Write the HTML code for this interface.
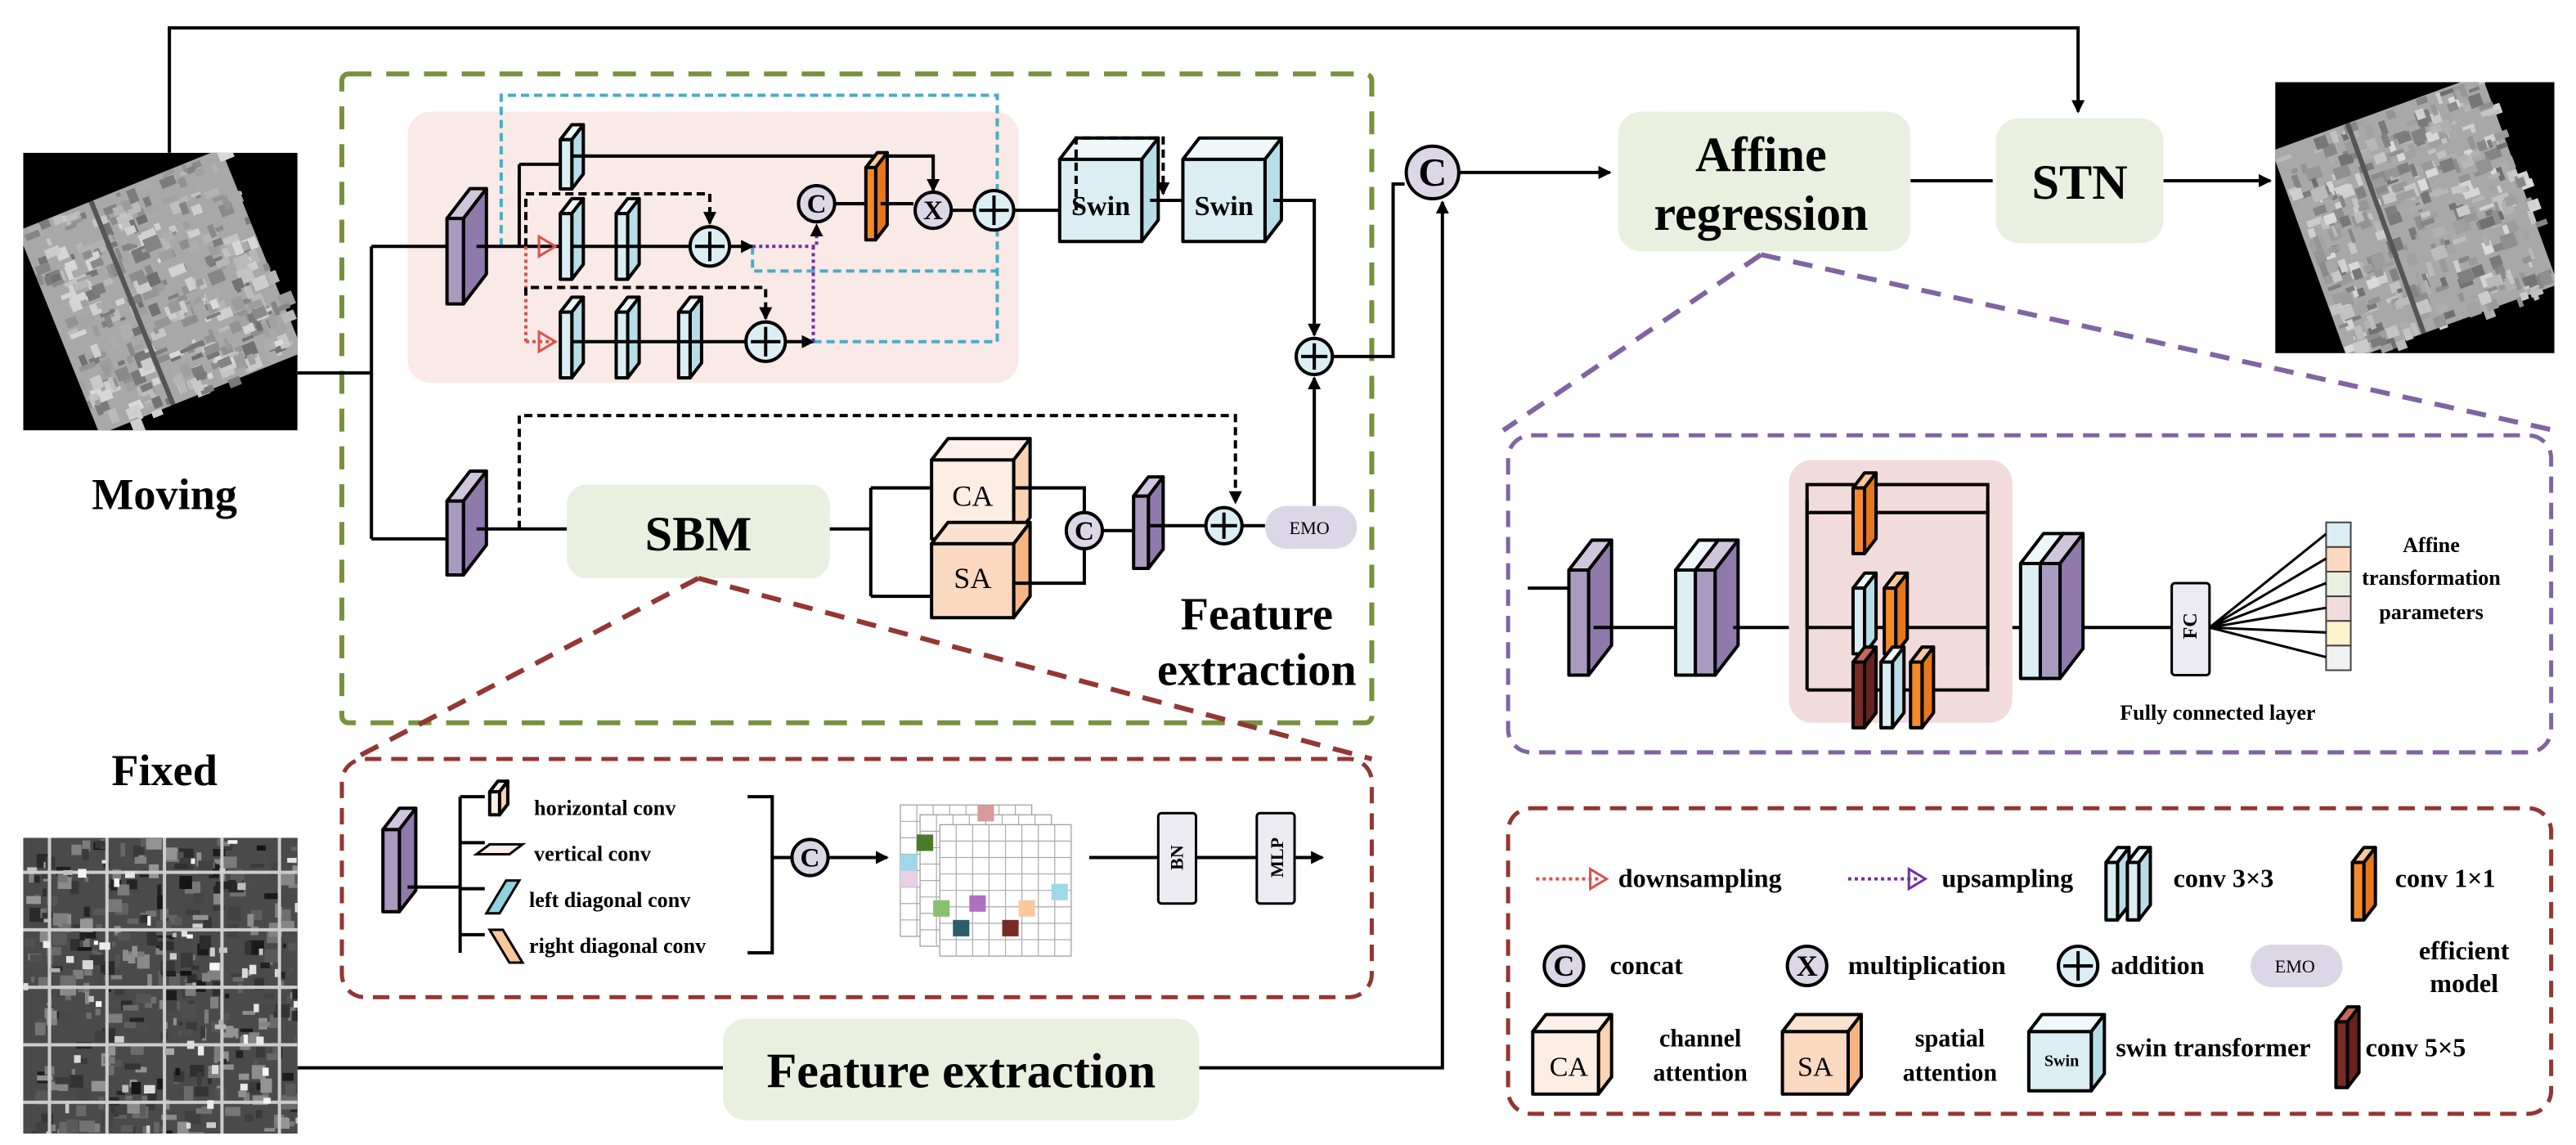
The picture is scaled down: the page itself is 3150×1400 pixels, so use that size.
<!DOCTYPE html>
<html><head><meta charset="utf-8"><style>
html,body{margin:0;padding:0;background:#fff}
svg{display:block}
text{font-family:"Liberation Serif","Times New Roman",Times,serif;font-weight:bold;fill:#000}
</style></head><body>
<svg id="s" width="3150" height="1400" viewBox="0 0 1568 697" xmlns="http://www.w3.org/2000/svg" font-family="Liberation Serif, Times New Roman, serif">
<defs>
<marker id="ar" markerWidth="8" markerHeight="8" refX="7" refY="4" orient="auto" markerUnits="userSpaceOnUse"><path d="M0,0 L8,4 L0,8 Z" fill="#000"/></marker>
<clipPath id="cm"><rect x="14" y="93" width="167" height="169"/></clipPath>
<clipPath id="cf"><rect x="14" y="510" width="167" height="180"/></clipPath>
<clipPath id="co"><rect x="1385" y="50" width="170" height="165"/></clipPath>
</defs>
<g id="g"></g>
<text x="100" y="310" font-size="27" text-anchor="middle">Moving</text>
<text x="100" y="478" font-size="27" text-anchor="middle">Fixed</text>
<text x="1072" y="104" font-size="30" text-anchor="middle">Affine</text>
<text x="1072" y="140" font-size="30" text-anchor="middle">regression</text>
<text x="1266" y="121" font-size="30" text-anchor="middle">STN</text>
<text x="425" y="335" font-size="30" text-anchor="middle">SBM</text>
<text x="585" y="662" font-size="30" text-anchor="middle">Feature extraction</text>
<text x="765" y="383" font-size="28" text-anchor="middle">Feature</text>
<text x="765" y="417" font-size="28" text-anchor="middle">extraction</text>
<text x="670" y="131" font-size="17" text-anchor="middle">Swin</text>
<text x="745" y="131" font-size="17" text-anchor="middle">Swin</text>
<text x="592" y="308" font-size="18" style="font-weight:normal" text-anchor="middle">CA</text>
<text x="592" y="358" font-size="18" style="font-weight:normal" text-anchor="middle">SA</text>
<text x="797" y="325" font-size="11" style="font-weight:normal" text-anchor="middle">EMO</text>
<text x="325" y="496" font-size="13">horizontal conv</text>
<text x="325" y="524" font-size="13">vertical conv</text>
<text x="322" y="552" font-size="13">left diagonal conv</text>
<text x="322" y="580" font-size="13">right diagonal conv</text>
<text x="0" y="0" font-size="11" transform="translate(720,522) rotate(-90)" text-anchor="middle">BN</text>
<text x="0" y="0" font-size="11" transform="translate(781,522) rotate(-90)" text-anchor="middle">MLP</text>
<text x="0" y="0" font-size="12" transform="translate(1337,381) rotate(-90)" text-anchor="middle">FC</text>
<text x="1480" y="336" font-size="13" text-anchor="middle">Affine</text>
<text x="1480" y="356" font-size="13" text-anchor="middle">transformation</text>
<text x="1480" y="377" font-size="13" text-anchor="middle">parameters</text>
<text x="1350" y="438" font-size="13" text-anchor="middle">Fully connected layer</text>
<text x="985" y="540" font-size="16">downsampling</text>
<text x="1182" y="540" font-size="16">upsampling</text>
<text x="1323" y="540" font-size="16">conv 3×3</text>
<text x="1458" y="540" font-size="16">conv 1×1</text>
<text x="980" y="593" font-size="16">concat</text>
<text x="1125" y="593" font-size="16">multiplication</text>
<text x="1285" y="593" font-size="16">addition</text>
<text x="1397" y="592" font-size="11" style="font-weight:normal" text-anchor="middle">EMO</text>
<text x="1500" y="584" font-size="16" text-anchor="middle">efficient</text>
<text x="1500" y="604" font-size="16" text-anchor="middle">model</text>
<text x="1035" y="637" font-size="15" text-anchor="middle">channel</text>
<text x="1035" y="658" font-size="15" text-anchor="middle">attention</text>
<text x="1187" y="637" font-size="15" text-anchor="middle">spatial</text>
<text x="1187" y="658" font-size="15" text-anchor="middle">attention</text>
<text x="1288" y="643" font-size="16">swin transformer</text>
<text x="1440" y="643" font-size="16">conv 5×5</text>
<text x="955" y="655" font-size="17" style="font-weight:normal" text-anchor="middle">CA</text>
<text x="1105" y="655" font-size="17" style="font-weight:normal" text-anchor="middle">SA</text>
<text x="1255" y="649" font-size="10" text-anchor="middle">Swin</text>
<g id="ct"></g>
</svg>
<script>
const NS="http://www.w3.org/2000/svg",G=document.getElementById('g'),CT=document.getElementById('ct');
function el(t,a,p){const e=document.createElementNS(NS,t);for(const k in a)e.setAttribute(k,a[k]);(p||G).appendChild(e);return e;}
function L(pts,o){o=o||{};return el('polyline',Object.assign({points:pts,fill:'none',stroke:'#000','stroke-width':2},o));}
function R(x,y,w,h,f,o){return el('rect',Object.assign({x,y,width:w,height:h,fill:f},o||{}));}
const C={pu:['#a99bc0','#8f7aab','#cfc6de'],bl:['#daeef3','#b7dde8','#eef8fb'],or:['#f58a2a','#e6771c','#fbc89a'],ca:['#fdeee4','#fad3b4','#fdf1ea'],sa:['#fbd9c0','#f6b584','#fbe2cf'],ma:['#7a2a24','#6a221c','#c66a5a']};
function slab(x,y,w,h,d,c){const s={stroke:'#000','stroke-width':2,'stroke-linejoin':'round'};
 el('polygon',Object.assign({points:`${x},${y} ${x+d},${y-d*1.3} ${x+w+d},${y-d*1.3} ${x+w},${y}`,fill:c[2]},s));
 el('polygon',Object.assign({points:`${x+w},${y} ${x+w+d},${y-d*1.3} ${x+w+d},${y+h-d*1.3} ${x+w},${y+h}`,fill:c[1]},s));
 R(x,y,w,h,c[0],s);}
function circ(x,y,r,t,f){el('circle',{cx:x,cy:y,r,fill:f||(t=='+'?'#dbeef3':'#dcd7e6'),stroke:'#000','stroke-width':2});
 if(t=='+'){L(`${x-r+3},${y} ${x+r-3},${y}`);L(`${x},${y-r+3} ${x},${y+r-3}`);}
 else{const e=el('text',{x,y:y+r*0.5,'font-size':r*1.5,'text-anchor':'middle'},CT);e.textContent=t;}}
function img(cid,x,y,w,h,dark,rot){const g=el('g',{'clip-path':`url(#${cid})`});
 R(x,y,w,h,rot?'#000':'#333');g.appendChild(G.lastChild);
 const gg=el('g',rot?{transform:`rotate(${rot} ${x+w/2} ${y+h/2})`}:{},g);
 const s=rot?w*0.8:w, ox=x+w/2-s/2, oy=y+h/2-(rot?s:h)/2, sh=rot?s:h;
 el('rect',{x:ox,y:oy,width:s,height:sh,fill:dark?'#4a4a4a':'#a8a8a8'},gg);
 let seed=cid.charCodeAt(1)*97;const rnd=()=>{seed=(seed*9301+49297)%233280;return seed/233280;};
 for(let i=0;i<400;i++){const v=dark?Math.floor(rnd()*130+20):Math.floor(rnd()*110+110);
  el('rect',{x:ox+rnd()*s,y:oy+rnd()*sh,width:2+rnd()*8,height:2+rnd()*7,fill:`rgb(${v},${v},${v})`},gg);}
 if(dark){for(let i=0;i<5;i++){el('rect',{x:ox,y:oy+20+i*35,width:s,height:2,fill:'#ccc'},gg);el('rect',{x:ox+15+i*35,y:oy,width:2,height:sh,fill:'#ccc'},gg);}
  for(let i=0;i<60;i++){const v=Math.floor(rnd()*80+170);el('rect',{x:ox+rnd()*s,y:oy+rnd()*sh,width:2+rnd()*5,height:2+rnd()*4,fill:`rgb(${v},${v},${v})`},gg);}}
 else{el('rect',{x:ox+s*0.35,y:oy,width:3,height:sh,fill:'#555'},gg);}}
img('cm',14,93,167,169,false,-22);
img('cf',14,510,167,180,true,0);
img('co',1385,50,170,165,false,-20);
L('103,93 103,17 1265,17 1265,68',{'marker-end':'url(#ar)'});
R(208,45,627,395,'none',{stroke:'#76923c','stroke-width':3,'stroke-dasharray':'14,9',rx:4});
R(248,68,372,165,'#f9e9e7',{rx:14});
L('181,227 226,227');L('226,150 226,328');L('226,150 272,150');L('226,328 272,328');
L('305,150 305,58 607,58 607,116',{stroke:'#4bacc6','stroke-dasharray':'5,3'});
L('458,150 458,165 607,165',{stroke:'#4bacc6','stroke-dasharray':'5,3'});
L('495,208 607,208 607,140',{stroke:'#4bacc6','stroke-dasharray':'5,3'});
slab(272,133,10,52,14,C.pu);
L('290,150 341,150');L('316,100 316,150');L('316,100 341,100');
slab(341,85,7,30,7,C.bl);L('348,95 568,95 568,116',{'marker-end':'url(#ar)'});
L('320,150 320,118 432,118 432,136',{'stroke-dasharray':'5,3','marker-end':'url(#ar)'});
L('320,150 320,208',{stroke:'#d9534f','stroke-dasharray':'2,2'});
L('320,208 338,208',{stroke:'#d9534f','stroke-dasharray':'2,2'});
el('polygon',{points:'328,144 338,150 328,156',fill:'none',stroke:'#d9534f','stroke-width':1.5});
el('polygon',{points:'328,202 338,208 328,214',fill:'none',stroke:'#d9534f','stroke-width':1.5});
slab(341,130,7,40,7,C.bl);slab(375,130,7,40,7,C.bl);L('348,150 420,150');
circ(432,150,12,'+');L('444,150 458,150',{'marker-end':'url(#ar)'});
L('458,150 497,150 497,137',{stroke:'#7030a0','stroke-dasharray':'2,2','marker-end':'url(#ar)'});
L('320,180 320,175 466,175 466,194',{'stroke-dasharray':'5,3','marker-end':'url(#ar)'});
slab(341,190,7,40,7,C.bl);slab(375,190,7,40,7,C.bl);slab(413,190,7,40,7,C.bl);L('348,208 454,208');
circ(466,208,12,'+');L('478,208 495,208',{'marker-end':'url(#ar)'});
L('495,208 495,150',{stroke:'#7030a0','stroke-dasharray':'2,2'});
circ(497,124,11,'C');L('508,124 527,124');slab(527,102,6,44,7,C.or);L('536,124 556,124');
circ(568,128,11,'X');L('579,128 593,128');circ(605,128,12,'+');L('617,128 645,128');
slab(645,97,50,50,10,C.bl);slab(720,97,50,50,10,C.bl);
L('655,128 655,84 708,84 708,118',{'stroke-dasharray':'5,3','marker-end':'url(#ar)'});
L('700,122 720,122');L('775,122 800,122 800,204',{'marker-end':'url(#ar)'});
circ(800,217,11,'+');L('811,217 848,217 848,112 855,112');
circ(872,105,16,'C');
slab(272,305,10,45,14,C.pu);L('290,322 345,322');
L('316,322 316,253 752,253 752,306',{'stroke-dasharray':'5,3','marker-end':'url(#ar)'});
R(345,295,160,57,'#e9f0e0',{rx:12});
L('505,322 530,322');L('530,297 530,363');L('530,297 567,297');L('530,363 567,363');
slab(567,280,50,48,10,C.ca);slab(567,331,50,45,10,C.sa);
L('617,297 660,297 660,312');L('617,355 660,355 660,334');
circ(660,323,11,'C');L('671,323 690,323');slab(690,302,9,44,9,C.pu);L('700,320 733,320');
circ(745,320,11,'+');L('756,320 770,320');
R(770,308,56,26,'#dcd7e6',{rx:13});
L('800,308 800,230',{'marker-end':'url(#ar)'});
L('181,650 440,650');R(440,620,290,62,'#e9f0e0',{rx:14});L('730,650 878,650 878,123',{'marker-end':'url(#ar)'});
L('888,105 980,105',{'marker-end':'url(#ar)'});
R(985,68,178,85,'#e9f0e0',{rx:14});L('1163,110 1213,110');R(1215,72,102,76,'#e9f0e0',{rx:14});
L('1317,110 1382,110',{'marker-end':'url(#ar)'});
L('425,352 215,462',{stroke:'#943634','stroke-width':3,'stroke-dasharray':'12,8'});
L('425,352 835,462',{stroke:'#943634','stroke-width':3,'stroke-dasharray':'12,8'});
R(208,462,627,145,'none',{stroke:'#943634','stroke-width':2.5,'stroke-dasharray':'10,6',rx:14});
slab(233,505,10,50,10,C.pu);L('248,540 280,540');L('280,485 280,580');
['485','513','541','569'].forEach(v=>L(`280,${v} 295,${v}`));
slab(298,482,6,14,5,C.ca);
el('polygon',{points:'290,520 310,520 318,514 298,514',fill:'#fdeee4',stroke:'#000','stroke-width':1.5});
el('polygon',{points:'296,556 304,556 316,536 308,536',fill:'#8fd3e0',stroke:'#000','stroke-width':1.5});
el('polygon',{points:'298,566 306,566 318,586 310,586',fill:'#f9c89a',stroke:'#000','stroke-width':1.5});
L('455,485 470,485 470,580 455,580');L('470,522 482,522');circ(493,522,11,'C');L('504,522 540,522',{'marker-end':'url(#ar)'});
const tc=['#d89a9a','#4a7a2a','#e8d0e8','#88c070','#2c5c6c','#a0d8e8','#7a2a24','#f8c8a0','#b070c0'];
for(let k=0;k<3;k++){const ox=548+k*12,oy=490+k*6;R(ox,oy,80,80,'#fff',{stroke:'#999','stroke-width':0.6});
 for(let i=1;i<8;i++){L(`${ox+i*10},${oy} ${ox+i*10},${oy+80}`,{stroke:'#aaa','stroke-width':0.6});L(`${ox},${oy+i*10} ${ox+80},${oy+i*10}`,{stroke:'#aaa','stroke-width':0.6});}}
[[548,520,5],[558,508,1],[548,530,2],[568,548,3],[580,560,4],[595,490,0],[610,560,6],[640,538,5],[590,545,8],[620,548,7]].forEach(a=>R(a[0],a[1],10,10,tc[a[2]]));
L('663,522 705,522');R(705,495,23,55,'#ecebf2',{stroke:'#000','stroke-width':1.5,rx:2});L('728,522 765,522');
R(765,495,23,55,'#ecebf2',{stroke:'#000','stroke-width':1.5,rx:2});L('788,522 805,522',{'marker-end':'url(#ar)'});
L('1072,155 915,262',{stroke:'#8064a2','stroke-width':3,'stroke-dasharray':'12,8'});
L('1072,155 1555,262',{stroke:'#8064a2','stroke-width':3,'stroke-dasharray':'12,8'});
R(918,265,635,193,'none',{stroke:'#8064a2','stroke-width':2.5,'stroke-dasharray':'10,6',rx:14});
L('930,358 955,358');slab(955,347,12,64,14,C.pu);L('970,382 1020,382');
slab(1020,347,12,64,14,C.bl);slab(1032,347,12,64,14,C.pu);L('1055,382 1089,382');
R(1089,280,136,160,'#f2dcdb',{rx:14});
L('1100,382 1100,295 1210,295 1210,405');L('1100,304 1100,420');
L('1100,312 1210,312');slab(1128,297,7,40,7,C.or);
L('1100,382 1210,382');slab(1128,358,7,40,7,C.bl);slab(1147,358,7,40,7,C.or);
L('1100,420 1210,420 1210,305');slab(1128,403,7,40,7,C.ma);slab(1145,403,7,40,7,C.bl);slab(1163,403,7,40,7,C.or);
L('1225,382 1230,382');slab(1230,343,12,70,14,C.bl);slab(1242,343,12,70,14,C.pu);L('1268,382 1322,382');
R(1322,355,23,56,'#ecebf2',{stroke:'#000','stroke-width':1.5,rx:2});
const vc=['#daeef3','#fbd9c0','#e9f0e0','#f2dcdb','#fdf2cc','#f2f2f2'];
vc.forEach((c,i)=>{R(1416,318+i*15,15,15,c,{stroke:'#444','stroke-width':1});L(`1345,382 1416,${325+i*15}`,{'stroke-width':1.5});});
R(918,492,635,186,'none',{stroke:'#943634','stroke-width':2.5,'stroke-dasharray':'10,6',rx:14});
L('935,535 975,535',{stroke:'#d9534f','stroke-dasharray':'2,2'});el('polygon',{points:'968,529 978,535 968,541',fill:'none',stroke:'#d9534f','stroke-width':1.5});
L('1125,535 1168,535',{stroke:'#7030a0','stroke-dasharray':'2,2'});el('polygon',{points:'1162,529 1172,535 1162,541',fill:'none',stroke:'#7030a0','stroke-width':1.5});
slab(1282,525,7,35,7,C.bl);slab(1295,525,7,35,7,C.bl);
slab(1432,525,7,35,7,C.or);
circ(952,588,12,'C');circ(1100,588,12,'X');circ(1265,588,12,'+');
R(1370,575,56,26,'#dcd7e6',{rx:13});
slab(933,628,40,38,8,C.ca);slab(1085,628,40,38,8,C.sa);slab(1235,628,38,36,8,C.bl);
slab(1422,622,7,40,7,C.ma);
</script>
</body></html>
